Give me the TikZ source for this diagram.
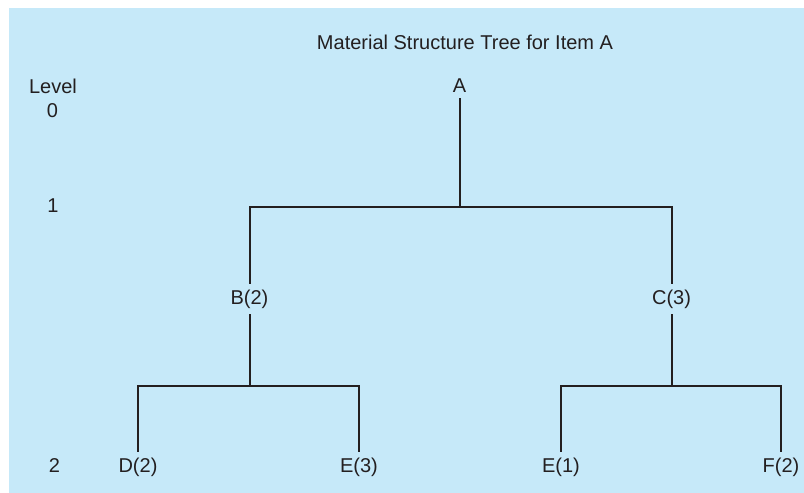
\documentclass[tikz,border=0pt]{standalone}
\usepackage{fontspec}
\setmainfont{Liberation Sans}
\definecolor{bgblue}{RGB}{198,233,249}
\definecolor{ink}{RGB}{35,31,32}
\begin{document}
\begin{tikzpicture}[x=1pt,y=-1pt,
  lbl/.style={anchor=base,inner sep=4pt,outer sep=2pt,text=ink,font=\fontsize{20}{24}\selectfont},
  conn/.style={draw=ink,line width=2pt,line join=miter}]
\useasboundingbox (0,0) rectangle (804,493);
\fill[bgblue] (9,8) rectangle (804,493);
% title and level labels
\node[lbl] (title) at (465,49) {Material Structure Tree for Item A};
\node[lbl] (lev) at (53,93) {Level};
\node[lbl] (l0) at (52.5,117) {0};
\node[lbl] (l1) at (53,212) {1};
\node[lbl] (l2) at (54.5,472) {2};
% tree nodes
\node[lbl] (A) at (459.5,92) {A};
\node[lbl] (B) at (249.5,304) {B(2)};
\node[lbl] (C) at (671.5,304) {C(3)};
\node[lbl] (D) at (138,472) {D(2)};
\node[lbl] (E3) at (359,472) {E(3)};
\node[lbl] (E1) at (561,472) {E(1)};
\node[lbl] (F) at (781,472) {F(2)};
% junctions
\coordinate (j0) at (459.5,207);
\coordinate (jB) at (249.5,386);
\coordinate (jC) at (671.5,386);
% connectors
\draw[conn] (A) -- (j0);
\draw[conn] (B) |- (j0) -| (C);
\draw[conn] (B) -- (jB);
\draw[conn] (D) |- (jB) -| (E3);
\draw[conn] (C) -- (jC);
\draw[conn] (E1) |- (jC) -| (F);
\end{tikzpicture}
\end{document}
